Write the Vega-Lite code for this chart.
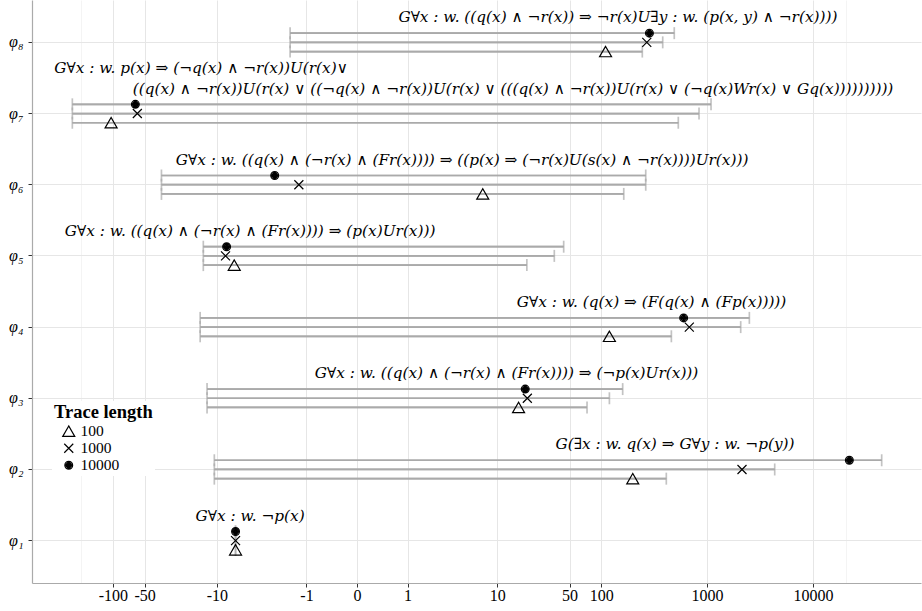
{
  "$schema": "https://vega.github.io/schema/vega-lite/v6.json",
  "width": 889,
  "height": 583,
  "autosize": {"type": "none"},
  "padding": {"left": 32, "top": 0, "right": 1, "bottom": 28},
  "background": "white",
  "config": {
    "view": {"stroke": null},
    "font": "Liberation Serif",
    "legend": {
      "orient": "none",
      "legendX": 20,
      "legendY": 401,
      "padding": 2,
      "fillColor": "white",
      "titleFont": "Liberation Serif",
      "titleFontWeight": "bold",
      "titleFontSize": 18.5,
      "titleColor": "black",
      "titlePadding": 2,
      "labelFont": "Liberation Serif",
      "labelFontSize": 15.5,
      "labelColor": "black",
      "symbolOffset": 7,
      "labelOffset": 4,
      "rowPadding": 0,
      "symbolSize": 144,
      "symbolStrokeColor": "black",
      "symbolStrokeWidth": 1.2
    }
  },
  "datasets": {
    "bars": [
      {"phi": "φ₈", "trace": "10000", "lo": -1.64, "hi": 491, "val": 286},
      {"phi": "φ₈", "trace": "1000", "lo": -1.64, "hi": 382, "val": 270},
      {"phi": "φ₈", "trace": "100", "lo": -1.64, "hi": 245, "val": 110},
      {"phi": "φ₇", "trace": "10000", "lo": -242, "hi": 1092, "val": -61.2},
      {"phi": "φ₇", "trace": "1000", "lo": -242, "hi": 841, "val": -58.6},
      {"phi": "φ₇", "trace": "100", "lo": -242, "hi": 536, "val": -104},
      {"phi": "φ₆", "trace": "10000", "lo": -34.5, "hi": 264, "val": -2.49},
      {"phi": "φ₆", "trace": "1000", "lo": -34.5, "hi": 264, "val": -1.27},
      {"phi": "φ₆", "trace": "100", "lo": -34.5, "hi": 163.6, "val": 7.17},
      {"phi": "φ₅", "trace": "10000", "lo": -13.6, "hi": 44.0, "val": -8.0},
      {"phi": "φ₅", "trace": "1000", "lo": -13.6, "hi": 35.8, "val": -8.2},
      {"phi": "φ₅", "trace": "100", "lo": -13.6, "hi": 19.5, "val": -6.7},
      {"phi": "φ₄", "trace": "10000", "lo": -14.6, "hi": 2511, "val": 602},
      {"phi": "φ₄", "trace": "1000", "lo": -14.6, "hi": 2080, "val": 681},
      {"phi": "φ₄", "trace": "100", "lo": -14.6, "hi": 461, "val": 119.6},
      {"phi": "φ₃", "trace": "10000", "lo": -12.5, "hi": 159.8, "val": 18.8},
      {"phi": "φ₃", "trace": "1000", "lo": -12.5, "hi": 119.6, "val": 19.7},
      {"phi": "φ₃", "trace": "100", "lo": -12.5, "hi": 73.4, "val": 16.2},
      {"phi": "φ₂", "trace": "10000", "lo": -10.6, "hi": 44490, "val": 22035},
      {"phi": "φ₂", "trace": "1000", "lo": -10.6, "hi": 4355, "val": 2140},
      {"phi": "φ₂", "trace": "100", "lo": -10.6, "hi": 413, "val": 199},
      {"phi": "φ₁", "trace": "10000", "lo": -6.5, "hi": -6.5, "val": -6.5},
      {"phi": "φ₁", "trace": "1000", "lo": -6.5, "hi": -6.5, "val": -6.5},
      {"phi": "φ₁", "trace": "100", "lo": -6.5, "hi": -6.5, "val": -6.5}
    ],
    "labels": [
      {"phi": "φ₈", "x": 144, "line": 2, "label": "G∀x : w. ((q(x) ∧ ¬r(x)) ⇒ ¬r(x)U∃y : w. (p(x, y) ∧ ¬r(x))))"},
      {"phi": "φ₇", "x": -14.3, "line": 1, "label": "G∀x : w. p(x) ⇒ (¬q(x) ∧ ¬r(x))U(r(x)∨"},
      {"phi": "φ₇", "x": 14.3, "line": 2, "label": "((q(x) ∧ ¬r(x))U(r(x) ∨ ((¬q(x) ∧ ¬r(x))U(r(x) ∨ (((q(x) ∧ ¬r(x))U(r(x) ∨ (¬q(x)Wr(x) ∨ Gq(x))))))))))"},
      {"phi": "φ₆", "x": 4.39, "line": 2, "label": "G∀x : w. ((q(x) ∧ (¬r(x) ∧ (Fr(x)))) ⇒ ((p(x) ⇒ (¬r(x)U(s(x) ∧ ¬r(x))))Ur(x)))"},
      {"phi": "φ₅", "x": -4.61, "line": 2, "label": "G∀x : w. ((q(x) ∧ (¬r(x) ∧ (Fr(x)))) ⇒ (p(x)Ur(x)))"},
      {"phi": "φ₄", "x": 299.7, "line": 2, "label": "G∀x : w. (q(x) ⇒ (F(q(x) ∧ (Fp(x)))))"},
      {"phi": "φ₃", "x": 12.36, "line": 2, "label": "G∀x : w. ((q(x) ∧ (¬r(x) ∧ (Fr(x)))) ⇒ (¬p(x)Ur(x)))"},
      {"phi": "φ₂", "x": 499, "line": 2, "label": "G(∃x : w. q(x) ⇒ G∀y : w. ¬p(y))"},
      {"phi": "φ₁", "x": -4.61, "line": 2, "label": "G∀x : w. ¬p(x)"}
    ]
  },
  "layer": [
    {
      "data": {"name": "bars"},
      "mark": {"type": "rule", "color": "#aaaaaa", "strokeWidth": 1.7},
      "encoding": {
        "x": {
          "field": "lo",
          "type": "quantitative",
          "scale": {"type": "symlog", "constant": 0.5, "domain": [-582, 104500], "nice": false, "zero": false},
          "axis": {
            "title": null,
            "values": [-200.3, -141.3, -100, -70.2, -50, -21.9, -10, -3.03, -1, -0.27, 0, 0.27, 1, 3.03, 10, 21.9, 50, 70.2, 100, 316, 1000, 3235, 10000, 14150, 20480],
            "labelExpr": "indexof([-100,-50,-10,-1,0,1,10,50,100,1000,10000], datum.value) >= 0 ? '' + datum.value : ''",
            "labelFont": "Liberation Serif",
            "labelFontSize": 16,
            "labelColor": "black",
            "labelPadding": 0,
            "labelOverlap": false,
            "labelFlush": false,
            "domainColor": "#aaaaaa",
            "domainWidth": 1.2,
            "tickColor": "#333333",
            "tickSize": 4,
            "tickWidth": 1,
            "tickOpacity": {"condition": {"test": "indexof([-100,-50,-10,-1,0,1,10,50,100,1000,10000], datum.value) >= 0", "value": 1}, "value": 0},
            "gridColor": {"condition": {"test": "indexof([-100,-50,-10,-1,0,1,10,50,100,1000,10000], datum.value) >= 0", "value": "#e6e6e6"}, "value": "#f4f4f4"},
            "gridWidth": 1
          }
        },
        "x2": {"field": "hi"},
        "y": {
          "field": "phi",
          "type": "nominal",
          "scale": {"type": "band", "domain": ["φ₈", "φ₇", "φ₆", "φ₅", "φ₄", "φ₃", "φ₂", "φ₁"], "paddingInner": 0, "paddingOuter": 0.095},
          "axis": {
            "title": null,
            "bandPosition": 0.5,
            "labelFont": "Liberation Serif",
            "labelFontStyle": "italic",
            "labelFontSize": 16,
            "labelColor": "black",
            "labelPadding": 5,
            "domainColor": "#aaaaaa",
            "domainWidth": 1.2,
            "tickColor": "#333333",
            "tickSize": 4,
            "gridColor": "#e6e6e6",
            "grid": true
          }
        },
        "yOffset": {
          "field": "trace",
          "type": "nominal",
          "scale": {"type": "band", "domain": ["10000", "1000", "100"], "range": [21.79, 49.39], "paddingInner": 0, "paddingOuter": 0}
        }
      }
    },
    {
      "mark": {"type": "rule", "color": "#cccccc", "strokeWidth": 1, "strokeDash": [4, 3]},
      "encoding": {"x": {"datum": 0}}
    },
    {
      "data": {"name": "bars"},
      "mark": {"type": "rule", "color": "#aaaaaa", "strokeWidth": 1.7},
      "encoding": {
        "x": {"field": "lo", "type": "quantitative"},
        "x2": {"field": "hi"},
        "y": {"field": "phi", "type": "nominal"},
        "yOffset": {"field": "trace", "type": "nominal"}
      }
    },
    {
      "data": {"name": "bars"},
      "mark": {"type": "tick", "color": "#aaaaaa", "thickness": 1.7, "size": 12, "orient": "vertical"},
      "encoding": {
        "x": {"field": "lo", "type": "quantitative"},
        "y": {"field": "phi", "type": "nominal"},
        "yOffset": {"field": "trace", "type": "nominal"}
      }
    },
    {
      "data": {"name": "bars"},
      "mark": {"type": "tick", "color": "#aaaaaa", "thickness": 1.7, "size": 12, "orient": "vertical"},
      "encoding": {
        "x": {"field": "hi", "type": "quantitative"},
        "y": {"field": "phi", "type": "nominal"},
        "yOffset": {"field": "trace", "type": "nominal"}
      }
    },
    {
      "data": {"name": "bars"},
      "mark": {"type": "point", "filled": false, "color": "black", "strokeWidth": 1.2, "size": 144, "opacity": 1},
      "encoding": {
        "x": {"field": "val", "type": "quantitative"},
        "y": {"field": "phi", "type": "nominal"},
        "yOffset": {"field": "trace", "type": "nominal"},
        "shape": {
          "field": "trace",
          "type": "nominal",
          "title": "Trace length",
          "scale": {
            "domain": ["100", "1000", "10000"],
            "range": [
              "M0,-0.866L-1,0.866L1,0.866Z",
              "M-0.75,-0.75L0.75,0.75M-0.75,0.75L0.75,-0.75",
              "M-0.65,0A0.65,0.65,0,1,0,0.65,0A0.65,0.65,0,1,0,-0.65,0ZM-0.45,0A0.45,0.45,0,1,0,0.45,0A0.45,0.45,0,1,0,-0.45,0ZM-0.25,0A0.25,0.25,0,1,0,0.25,0A0.25,0.25,0,1,0,-0.25,0ZM-0.08,0A0.08,0.08,0,1,0,0.08,0A0.08,0.08,0,1,0,-0.08,0Z"
            ]
          }
        }
      }
    },
    {
      "data": {"name": "labels"},
      "transform": [{"filter": "datum.line == 2"}],
      "mark": {"type": "text", "font": "DejaVu Serif", "fontStyle": "italic", "fontSize": 15.3, "color": "black", "align": "center", "baseline": "middle", "dy": -25},
      "encoding": {
        "x": {"field": "x", "type": "quantitative"},
        "y": {"field": "phi", "type": "nominal"},
        "text": {"field": "label"}
      }
    },
    {
      "data": {"name": "labels"},
      "transform": [{"filter": "datum.line == 1"}],
      "mark": {"type": "text", "font": "DejaVu Serif", "fontStyle": "italic", "fontSize": 15.3, "color": "black", "align": "center", "baseline": "middle", "dy": -46},
      "encoding": {
        "x": {"field": "x", "type": "quantitative"},
        "y": {"field": "phi", "type": "nominal"},
        "text": {"field": "label"}
      }
    }
  ]
}
